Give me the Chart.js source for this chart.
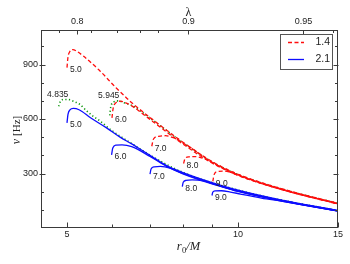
<!DOCTYPE html>
<html>
<head>
<meta charset="utf-8">
<script src="https://cdn.jsdelivr.net/npm/chart.js@4.4.0/dist/chart.umd.min.js"></script>
<style>
  html, body { margin: 0; padding: 0; background: #fff; }
  #wrap { width: 350px; height: 264px; }
</style>
</head>
<body>
<div id="wrap"><canvas id="nuChart" width="350" height="264"></canvas></div>
<script>
// curves: r0/M and frequency in Hz
// M = 1.4 (red, dashed)
const red50R  = [5.0, 5.02, 5.06, 5.12, 5.2, 5.35, 5.7, 6.1, 6.5, 7.0, 7.5, 8.0, 9.0, 10, 12, 15];
const red50Nu = [883, 940, 972, 982, 973, 945, 868, 772, 690, 608, 537, 472, 366, 296, 214, 136];
const red60R  = [6.0, 6.03, 6.1, 6.2, 6.3, 6.5, 6.8, 7.0, 7.5, 8.0, 9.0, 10, 12, 15];
const red60Nu = [606, 660, 690, 698, 693, 672, 628, 598, 527, 462, 358, 290, 211, 134];
const red70R  = [7.05, 7.1, 7.25, 7.45, 7.7, 8.0, 8.3, 9.0, 10, 12, 15];
const red70Nu = [450, 490, 505, 508, 497, 468, 438, 361, 292, 212, 134];
const red80R  = [8.02, 8.07, 8.2, 8.4, 8.7, 9.0, 9.5, 10, 12, 15];
const red80Nu = [355, 383, 392, 393, 383, 362, 322, 290, 210, 133];
const red90R  = [9.03, 9.08, 9.2, 9.45, 9.75, 10.1, 11, 12, 15];
const red90Nu = [256, 295, 310, 313, 305, 288, 246, 209, 132];

// M = 2.1 (blue, solid)
const blue50R  = [5.0, 5.02, 5.06, 5.13, 5.25, 5.5, 5.87, 6.2, 6.5, 7.0, 7.5, 8.0, 9.0, 10, 12, 15];
const blue50Nu = [579, 625, 650, 658, 651, 607, 551, 500, 463, 400, 342, 305, 250, 208, 152, 96];
const blue60R  = [5.99, 6.02, 6.1, 6.25, 6.5, 7.0, 7.5, 8.0, 9.0, 10, 12, 15];
const blue60Nu = [403, 440, 456, 458, 448, 394, 338, 300, 246, 205, 150, 95];
const blue70R  = [7.0, 7.03, 7.12, 7.3, 7.6, 8.0, 9.0, 10, 12, 15];
const blue70Nu = [296, 325, 337, 339, 329, 298, 243, 203, 149, 94];
const blue80R  = [7.98, 8.01, 8.1, 8.3, 8.7, 9.0, 10, 12, 15];
const blue80Nu = [228, 252, 262, 265, 259, 246, 201, 147, 94];
const blue90R  = [9.0, 9.03, 9.12, 9.35, 9.7, 10.1, 11, 12, 15];
const blue90Nu = [179, 198, 204, 205, 198, 187, 165, 146, 93];

// green dotted curves
const green4835R  = [4.835, 4.87, 4.93, 5.03, 5.13, 5.27, 5.42, 5.56, 5.71, 6.0, 6.5, 7.0, 8.0, 10, 12, 15];
const green4835Nu = [670, 698, 707, 707, 698, 680, 643, 615, 590, 536, 465, 401, 306, 209, 152, 96];
const green5945R  = [5.945, 5.97, 6.05, 6.15, 6.3, 6.5, 7.0, 7.5, 8.0, 9.0, 10, 12, 15];
const green5945Nu = [620, 665, 695, 700, 690, 675, 605, 535, 469, 364, 294, 213, 135];

// axes
const xTicks = [5, 10, 15];
const xMinorTicks = [6, 7, 8, 9];
const yTicks = [300, 600, 900];
const yMinorTicks = [100, 200, 400, 500, 700, 800, 1000];
const lambdaTickR = [5.213, 8.18, 13.04];
const lambdaTickLabels = ['0.8', '0.9', '0.95'];
const lambdaMinorR = [4.84, 5.51, 6.13, 6.72, 7.22, 14.68];
const legendLabels = ['1.4', '2.1'];

const styles = {
    red:   { borderColor: '#ff0d0d', borderDash: [4, 2.5], borderWidth: 1.3, order: 1 },
    blue:  { borderColor: '#0d0dff', borderDash: [], borderWidth: 1.3, order: 1 },
    green: { borderColor: '#0f960f', borderDash: [1.2, 2.4], borderWidth: 1.6, order: 2 }
};

const curves = [
    { r: red50R, nu: red50Nu, kind: 'red', text: '5.0' },
    { r: red60R, nu: red60Nu, kind: 'red', text: '6.0' },
    { r: red70R, nu: red70Nu, kind: 'red', text: '7.0' },
    { r: red80R, nu: red80Nu, kind: 'red', text: '8.0' },
    { r: red90R, nu: red90Nu, kind: 'red', text: '9.0' },
    { r: blue50R, nu: blue50Nu, kind: 'blue', text: '5.0' },
    { r: blue60R, nu: blue60Nu, kind: 'blue', text: '6.0' },
    { r: blue70R, nu: blue70Nu, kind: 'blue', text: '7.0' },
    { r: blue80R, nu: blue80Nu, kind: 'blue', text: '8.0' },
    { r: blue90R, nu: blue90Nu, kind: 'blue', text: '9.0' },
    { r: green4835R, nu: green4835Nu, kind: 'green', text: '4.835' },
    { r: green5945R, nu: green5945Nu, kind: 'green', text: '5.945' }
];

const datasets = curves.map(c => Object.assign({
    label: c.text,
    kind: c.kind,
    data: c.r.map((r, i) => ({ x: r, y: c.nu[i] })),
    showLine: true,
    fill: false,
    pointRadius: 0
}, styles[c.kind]));

const TEXT = '#222';
const AXIS = '#3a3a3a';

const decorations = {
    id: 'decorations',
    afterDatasetsDraw(chart) {
        const ctx = chart.ctx;
        // start labels next to each curve
        ctx.save();
        ctx.fillStyle = TEXT;
        ctx.font = '8.5px "Liberation Sans", Arial, sans-serif';
        ctx.textBaseline = 'middle';
        chart.data.datasets.forEach((ds, i) => {
            const pts = chart.getDatasetMeta(i).data;
            const first = pts[0];
            if (ds.kind === 'green') {
                const peak = Math.min(...pts.slice(0, 6).map(p => p.y));
                ctx.textAlign = 'center';
                ctx.fillText(ds.label, first.x - 1, peak - 5);
            } else {
                ctx.textAlign = 'left';
                ctx.fillText(ds.label, first.x + 3, first.y + 2);
            }
        });
        ctx.restore();
    },
    afterDraw(chart) {
        const ctx = chart.ctx;
        const a = chart.chartArea;
        const L = Math.round(a.left) + 0.5, R = Math.round(a.right) - 0.5;
        const T = Math.round(a.top) + 0.5, B = Math.round(a.bottom) - 0.5;
        ctx.save();
        ctx.strokeStyle = AXIS;
        ctx.lineWidth = 1;
        ctx.strokeRect(L, T, R - L, B - T);

        const line = (x1, y1, x2, y2) => {
            ctx.beginPath(); ctx.moveTo(x1, y1); ctx.lineTo(x2, y2); ctx.stroke();
        };
        const ys = chart.scales.y, xs = chart.scales.x, xt = chart.scales.x2;
        yTicks.forEach(v => {
            const y = Math.round(ys.getPixelForValue(v)) + 0.5;
            line(L - 2, y, L + 4, y); line(R - 4, y, R + 1, y);
        });
        yMinorTicks.forEach(v => {
            const y = Math.round(ys.getPixelForValue(v)) + 0.5;
            line(L, y, L + 2.5, y); line(R - 2.5, y, R, y);
        });
        xTicks.forEach(v => {
            const x = Math.round(xs.getPixelForValue(v)) + 0.5;
            line(x, B, x, B - 5);
        });
        xMinorTicks.forEach(v => {
            const x = Math.round(xs.getPixelForValue(v)) + 0.5;
            line(x, B, x, B - 3);
        });
        lambdaTickR.forEach(v => {
            const x = Math.round(xt.getPixelForValue(v)) + 0.5;
            line(x, T, x, T + 4);
        });
        lambdaMinorR.forEach(v => {
            const x = Math.round(xt.getPixelForValue(v)) + 0.5;
            line(x, T, x, T + 2.5);
        });

        // legend box
        const bx = 280.5, by = 34.5, bw = 52, bh = 35;
        ctx.fillStyle = '#fff';
        ctx.fillRect(bx, by, bw, bh);
        ctx.strokeStyle = '#555';
        ctx.strokeRect(bx, by, bw, bh);
        const legendSets = [chart.data.datasets[0], chart.data.datasets[5]];
        legendSets.forEach((ds, i) => {
            const y = [42.5, 59.5][i];
            ctx.strokeStyle = ds.borderColor;
            ctx.lineWidth = ds.borderWidth;
            ctx.setLineDash(ds.borderDash);
            line(288, y, 304, y);
            ctx.setLineDash([]);
            ctx.fillStyle = TEXT;
            ctx.font = '10.5px "Liberation Sans", Arial, sans-serif';
            ctx.textAlign = 'right';
            ctx.textBaseline = 'middle';
            ctx.fillText(legendLabels[i], 330, y);
        });

        // axis titles
        ctx.fillStyle = TEXT;
        ctx.textBaseline = 'alphabetic';
        ctx.textAlign = 'left';
        const serif = '"Liberation Serif", "DejaVu Serif", serif';
        ctx.font = 'italic 12.5px ' + serif;
        const wr = ctx.measureText('r').width;
        const wm = ctx.measureText('/M').width;
        ctx.font = '8.5px ' + serif;
        const w0 = ctx.measureText('0').width;
        const cx = (a.left + a.right) / 2 - 1;
        let x0 = cx - (wr + w0 + wm + 0.5) / 2;
        ctx.font = 'italic 12.5px ' + serif;
        ctx.fillText('r', x0, 250);
        ctx.font = '8.5px ' + serif;
        ctx.fillText('0', x0 + wr + 0.3, 252.5);
        ctx.font = 'italic 12.5px ' + serif;
        ctx.fillText('/M', x0 + wr + w0 + 0.5, 250);

        ctx.textAlign = 'center';
        ctx.textBaseline = 'middle';
        ctx.font = '12px ' + serif;
        ctx.fillText('λ', cx, 13);

        ctx.translate(17, 130);
        ctx.rotate(-Math.PI / 2);
        ctx.font = 'italic 12px ' + serif;
        const wn = ctx.measureText('ν ').width;
        ctx.font = '11px ' + serif;
        const wh = ctx.measureText('[Hz]').width;
        ctx.textAlign = 'left';
        ctx.font = 'italic 12px ' + serif;
        ctx.fillText('ν', -(wn + wh) / 2, 0);
        ctx.font = '11px ' + serif;
        ctx.fillText('[Hz]', -(wn + wh) / 2 + wn, 0);
        ctx.restore();
    }
};

const tickFont = { family: '"Liberation Sans", Arial, sans-serif', size: 9 };

new Chart(document.getElementById('nuChart'), {
    type: 'scatter',
    data: { datasets },
    options: {
        responsive: false,
        animation: false,
        devicePixelRatio: 1,
        layout: { padding: { left: 0, right: 12, top: 0, bottom: 0 } },
        plugins: { legend: { display: false }, tooltip: { enabled: false } },
        elements: { line: { cubicInterpolationMode: 'monotone' } },
        scales: {
            x: {
                type: 'logarithmic',
                position: 'bottom',
                min: 4.5,
                max: 15,
                grid: { display: false, drawTicks: false },
                border: { display: false },
                afterBuildTicks: s => { s.ticks = xTicks.map(v => ({ value: v })); },
                afterFit: s => { s.height = 36; },
                ticks: {
                    autoSkip: false, maxRotation: 0, padding: 1,
                    color: TEXT, font: tickFont,
                    callback: v => String(v)
                }
            },
            x2: {
                type: 'logarithmic',
                position: 'top',
                min: 4.5,
                max: 15,
                grid: { display: false, drawTicks: false },
                border: { display: false },
                afterBuildTicks: s => { s.ticks = lambdaTickR.map(v => ({ value: v })); },
                afterFit: s => { s.height = 30; },
                ticks: {
                    autoSkip: false, maxRotation: 0, padding: 3,
                    color: TEXT, font: tickFont,
                    callback: (v, i) => lambdaTickLabels[i]
                }
            },
            y: {
                min: 0,
                max: 1090,
                grid: { display: false, drawTicks: false },
                border: { display: false },
                afterBuildTicks: s => { s.ticks = yTicks.map(v => ({ value: v })); },
                afterFit: s => { s.width = 41; },
                ticks: {
                    padding: 3, color: TEXT, font: tickFont,
                    callback: v => String(v)
                }
            }
        }
    },
    plugins: [decorations]
});
</script>
</body>
</html>
